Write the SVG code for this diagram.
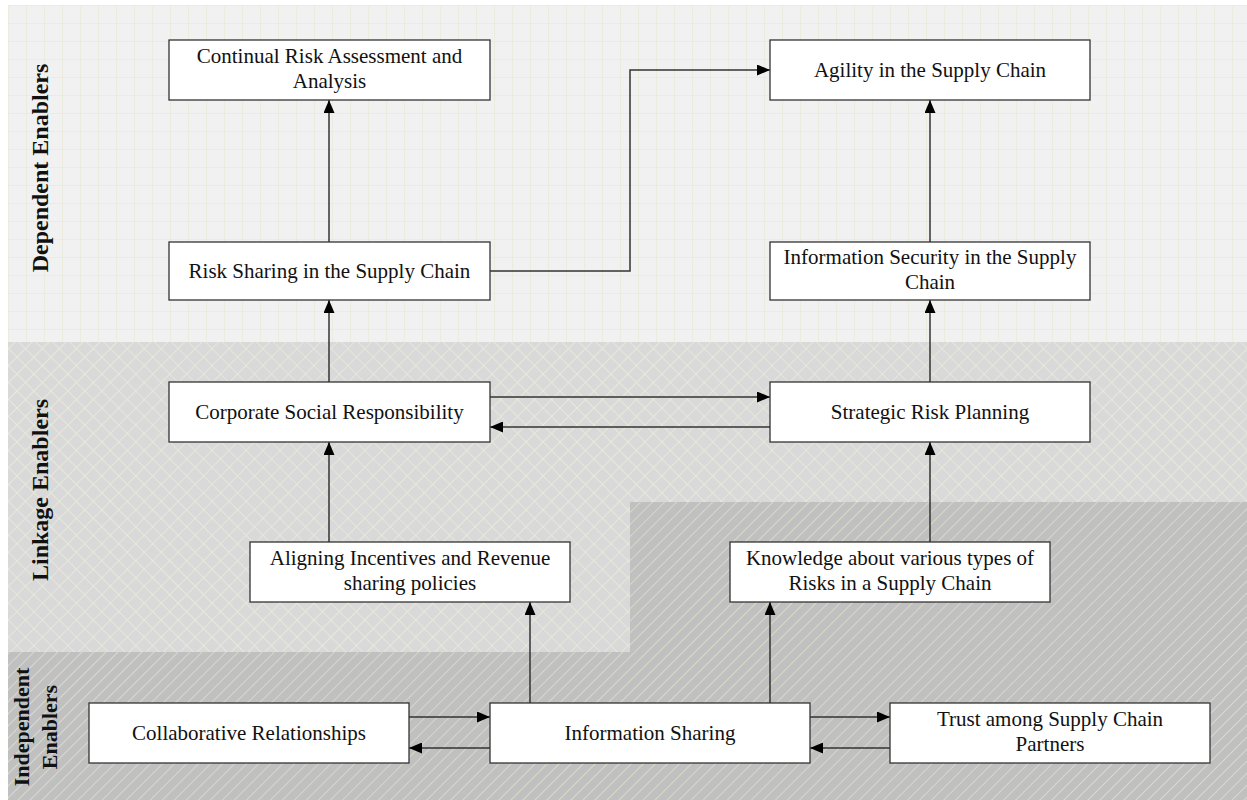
<svg xmlns="http://www.w3.org/2000/svg" width="1247" height="800" viewBox="0 0 1247 800">
<style>
.node rect{fill:#fff;stroke:#333;stroke-width:1.3}
.node text{font-family:"Liberation Serif","Times New Roman",serif;font-size:21px;fill:#111;text-anchor:middle}
.lbl{font-family:"Liberation Serif","Times New Roman",serif;font-size:22px;font-weight:bold;fill:#111;text-anchor:middle}
.lbl.big{font-size:24px}
.conn path{fill:none;stroke:#333;stroke-width:1.5}
</style>
<defs>
<pattern id="grid" width="18" height="18" patternUnits="userSpaceOnUse" x="8" y="5">
<rect width="18" height="18" fill="#f1f1f1"/>
<path d="M0 0H18M0 0V18" stroke="#eaead8" stroke-width="1.5"/>
</pattern>
<pattern id="cross" width="12" height="12" patternUnits="userSpaceOnUse" patternTransform="rotate(45)">
<rect width="12" height="12" fill="#d9d9d9"/>
<path d="M0 0H12M0 0V12" stroke="#ebebdc" stroke-width="1.6"/>
</pattern>
<pattern id="diag" width="8.5" height="8.5" patternUnits="userSpaceOnUse" patternTransform="rotate(45)">
<rect width="8.5" height="8.5" fill="#c0c0c0"/>
<path d="M0 0V8.5" stroke="#dedecd" stroke-width="1.6"/>
</pattern>
<marker id="ah" markerWidth="13" markerHeight="11" refX="13" refY="5.5" orient="auto" markerUnits="userSpaceOnUse">
<path d="M0 0L13 5.5L0 11Z" fill="#000"/>
</marker>
</defs>
<g id="background">
<rect x="8" y="5" width="1239" height="337" fill="url(#grid)"/>
<path d="M8 342H1247V502H630V652H8Z" fill="url(#cross)"/>
<path d="M8 652H630V502H1247V800H8Z" fill="url(#diag)"/>
</g>
<g id="labels">
<text class="lbl big" transform="translate(48,168) rotate(-90)">Dependent Enablers</text>
<text class="lbl big" transform="translate(48,490) rotate(-90)">Linkage Enablers</text>
<text class="lbl" transform="translate(29,727) rotate(-90)">Independent</text>
<text class="lbl" transform="translate(57,727) rotate(-90)">Enablers</text>
</g>
<g class="conn" id="connectors">
<path d="M329 382V300" marker-end="url(#ah)"/>
<path d="M329 242V100" marker-end="url(#ah)"/>
<path d="M490 271H630V70H770" marker-end="url(#ah)"/>
<path d="M930 242V100" marker-end="url(#ah)"/>
<path d="M930 382V300" marker-end="url(#ah)"/>
<path d="M490 397H770" marker-end="url(#ah)"/>
<path d="M770 427H490" marker-end="url(#ah)"/>
<path d="M329 542V442" marker-end="url(#ah)"/>
<path d="M930 542V442" marker-end="url(#ah)"/>
<path d="M530 703V602" marker-end="url(#ah)"/>
<path d="M770 703V602" marker-end="url(#ah)"/>
<path d="M409 717H490" marker-end="url(#ah)"/>
<path d="M490 748H409" marker-end="url(#ah)"/>
<path d="M810 717H890" marker-end="url(#ah)"/>
<path d="M890 748H810" marker-end="url(#ah)"/>
</g>
<g class="node" id="n-continual"><rect x="169" y="40" width="321" height="60"/><text x="329.5" y="63">Continual Risk Assessment and</text><text x="329.5" y="88">Analysis</text></g>
<g class="node" id="n-agility"><rect x="770" y="40" width="320" height="60"/><text x="930" y="77">Agility in the Supply Chain</text></g>
<g class="node" id="n-risksharing"><rect x="169" y="242" width="321" height="58"/><text x="329.5" y="278">Risk Sharing in the Supply Chain</text></g>
<g class="node" id="n-infosec"><rect x="770" y="242" width="320" height="58"/><text x="930" y="264">Information Security in the Supply</text><text x="930" y="289">Chain</text></g>
<g class="node" id="n-csr"><rect x="169" y="382" width="321" height="60"/><text x="329.5" y="419">Corporate Social Responsibility</text></g>
<g class="node" id="n-strategic"><rect x="770" y="382" width="320" height="60"/><text x="930" y="419">Strategic Risk Planning</text></g>
<g class="node" id="n-aligning"><rect x="250" y="542" width="320" height="60"/><text x="410" y="565">Aligning Incentives and Revenue</text><text x="410" y="590">sharing policies</text></g>
<g class="node" id="n-knowledge"><rect x="730" y="542" width="320" height="60"/><text x="890" y="565">Knowledge about various types of</text><text x="890" y="590">Risks in a Supply Chain</text></g>
<g class="node" id="n-collab"><rect x="89" y="703" width="320" height="60"/><text x="249" y="740">Collaborative Relationships</text></g>
<g class="node" id="n-infosharing"><rect x="490" y="703" width="320" height="60"/><text x="650" y="740">Information Sharing</text></g>
<g class="node" id="n-trust"><rect x="890" y="703" width="320" height="60"/><text x="1050" y="726">Trust among Supply Chain</text><text x="1050" y="751">Partners</text></g>
</svg>
